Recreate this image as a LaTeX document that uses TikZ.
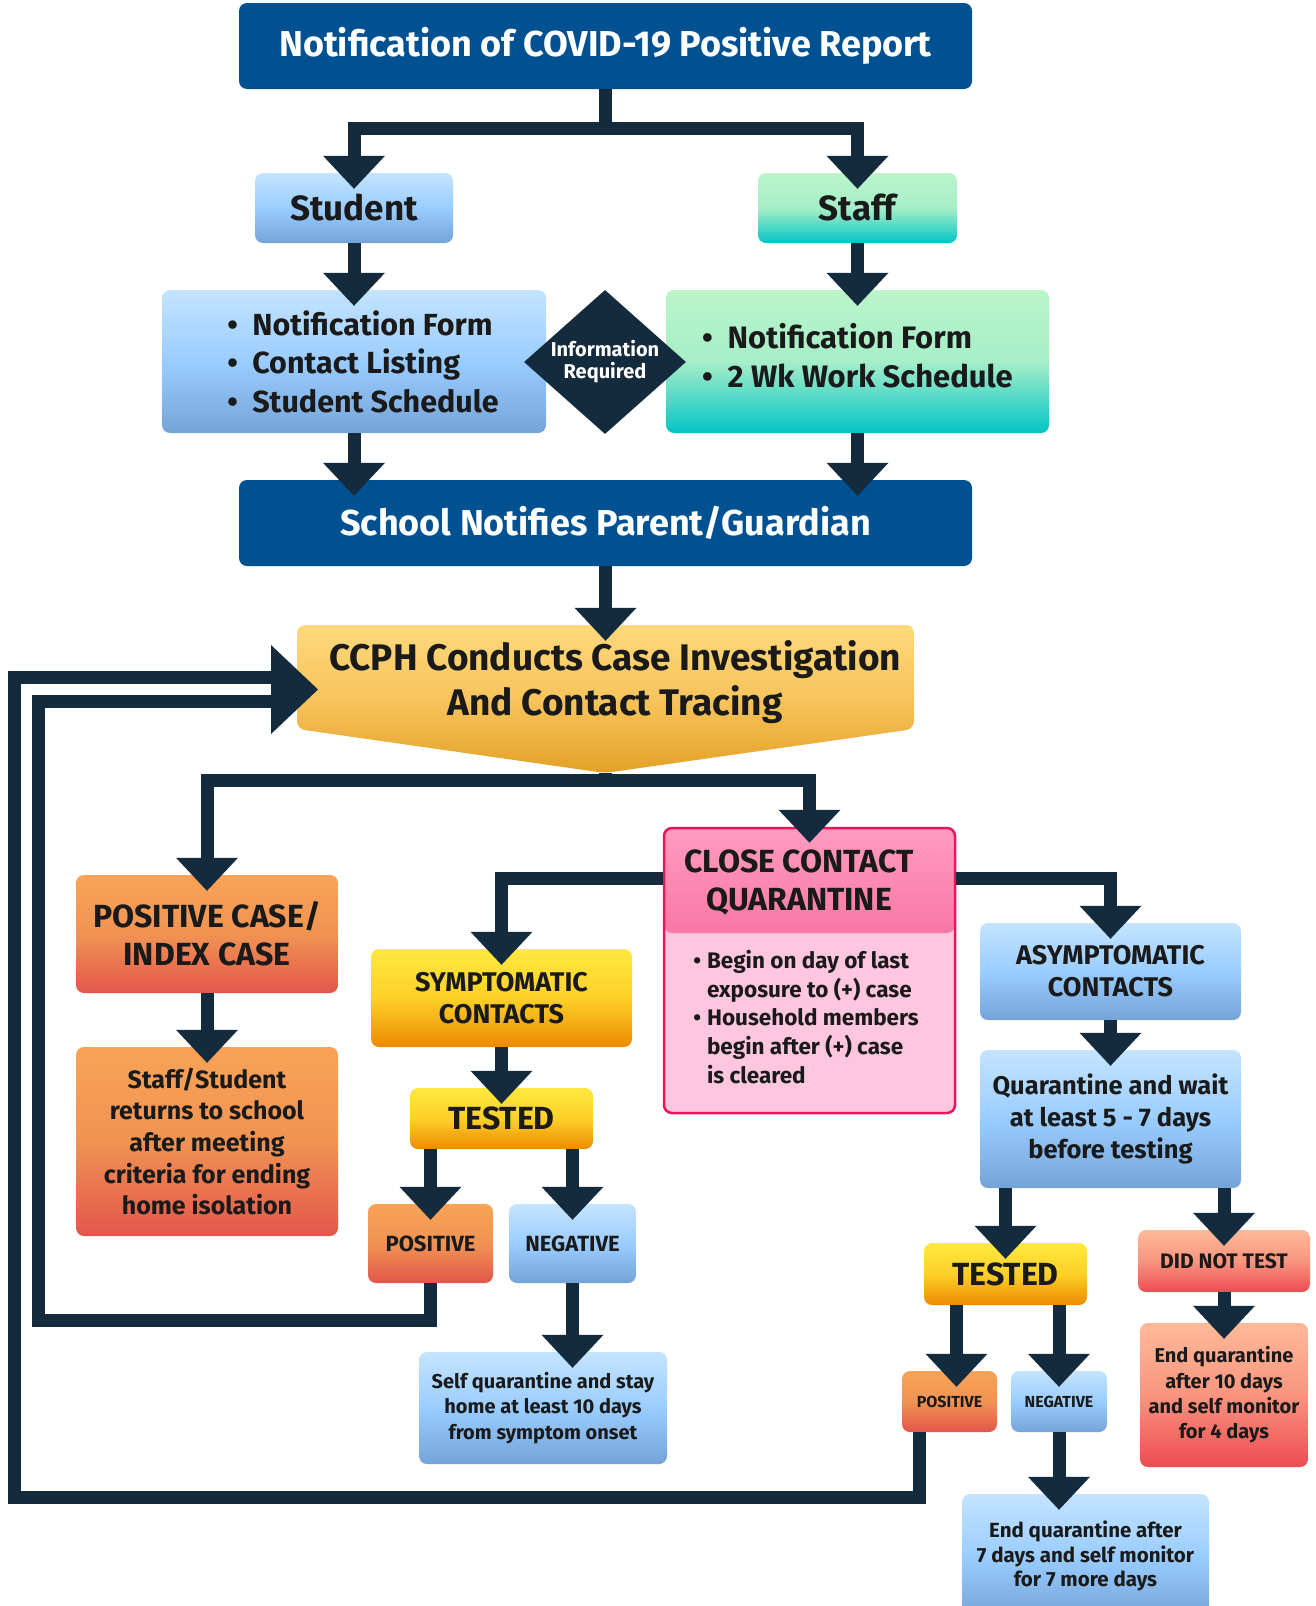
\documentclass[tikz,border=0pt]{standalone}
\usepackage{fontspec}
\setmainfont{Fira Sans}
\usetikzlibrary{arrows.meta,shapes.geometric}
\definecolor{boxnavy}{HTML}{005191}
\definecolor{arrowink}{HTML}{132B3D}
\definecolor{ink}{HTML}{1A1A1A}
\definecolor{bluetop}{HTML}{C4E4FF}
\definecolor{bluemid}{HTML}{9ACDFF}
\definecolor{bluebot}{HTML}{74A3D8}
\definecolor{greentop}{HTML}{BAF5C9}
\definecolor{greenmid}{HTML}{A6EEC8}
\definecolor{greenbot}{HTML}{02C4C6}
\definecolor{orangetop}{HTML}{F8A357}
\definecolor{orangemid}{HTML}{F09353}
\definecolor{orangebot}{HTML}{E3564B}
\definecolor{yellowtop}{HTML}{FFE93F}
\definecolor{yellowmid}{HTML}{FCD028}
\definecolor{yellowbot}{HTML}{EE8A00}
\definecolor{ccphtop}{HTML}{FFD97C}
\definecolor{ccphmid}{HTML}{F7C45C}
\definecolor{ccphbot}{HTML}{E3A127}
\definecolor{salmontop}{HTML}{FFB999}
\definecolor{salmonmid}{HTML}{F8957F}
\definecolor{salmonbot}{HTML}{EE4B52}
\definecolor{pinktop}{HTML}{FF9CC0}
\definecolor{pinkmid}{HTML}{F76A9B}
\definecolor{pinkbot}{HTML}{EA1457}
\definecolor{pinkbody}{HTML}{FFC6DF}
\definecolor{pinkline}{HTML}{E9175A}
\tikzset{box/.style={rounded corners=8pt,inner sep=0pt,align=center,text=ink},
         dims/.style 2 args={minimum width=#1pt,minimum height=#2pt},
         txt/.style 2 args={font=\fontsize{#1}{#2}\selectfont\bfseries},
         navybox/.style={box,fill=boxnavy,text=white},
         bluebox/.style={box,top color=bluetop,bottom color=bluebot,middle color=bluemid},
         greenbox/.style={box,top color=greentop,bottom color=greenbot,middle color=greenmid},
         orangebox/.style={box,top color=orangetop,bottom color=orangebot,middle color=orangemid},
         yellowbox/.style={box,top color=yellowtop,bottom color=yellowbot,middle color=yellowmid},
         salmonbox/.style={box,top color=salmontop,bottom color=salmonbot,middle color=salmonmid},
         flow/.style={draw=arrowink,line width=13pt,
           -{Triangle[width=62pt,length=33pt,line width=0pt]},shorten >=-16pt},
         loopline/.style={draw=arrowink,line width=13pt}
         }
\begin{document}
\begin{tikzpicture}[x=1pt,y=-1pt]
\useasboundingbox (0,0) rectangle (1316,1606);
\fill[white] (0,0) rectangle (1316,1606);

% top part
\node[navybox,dims={733}{86},txt={36}{42}] (title) at (605.5,46) {Notification of COVID-19 Positive Report};
\node[bluebox,dims={198}{70},txt={35}{40}] (student) at (354,208) {Student};
\node[greenbox,dims={199}{70},txt={35}{40}] (staff) at (857.5,208) {Staff};
\node[bluebox,dims={384}{143},txt={30.5}{38.5},align=left] (stulist) at (354,361.5)
  {\hspace*{18pt}\textbullet\ \ Notification Form\\\hspace*{18pt}\textbullet\ \ Contact Listing\\\hspace*{18pt}\textbullet\ \ Student Schedule};
\node[greenbox,dims={383}{143},txt={31}{39},align=left,text depth=12pt] (stafflist) at (857.5,361.5)
  {\textbullet\ \ Notification Form\\\textbullet\ \ 2 Wk Work Schedule};
\node[diamond,aspect=1.125,inner sep=0pt,fill=arrowink,text=white,dims={162}{144},
  txt={20}{22},align=center] (info) at (605,362) {Information\\Required};
\node[navybox,dims={733}{86},txt={36}{42}] (school) at (605.5,523) {School Notifies Parent/Guardian};

% investigation
\shade[top color=ccphtop,bottom color=ccphbot,middle color=ccphmid,rounded corners=8pt]
  (297,625) -- (914,625) -- (914,729) -- (605,773) -- (297,729) -- cycle;
\node[inner sep=0pt,dims={617}{104}] (ccph) at (605.5,677) {};
\coordinate (ccphtip) at (605,773);
\node[txt={37}{45},align=center,text=ink] (ccphtext) at (615,682)
  {CCPH Conducts Case Investigation\\And Contact Tracing};

% positive case
\node[orangebox,dims={262}{118},txt={32}{38}] (poscase) at (207,934) {POSITIVE CASE/\\INDEX CASE};
\node[orangebox,dims={262}{189},txt={25}{31.7}] (returns) at (207,1141.5)
  {Staff/Student\\returns to school\\after meeting\\criteria for ending\\home isolation};

% close contact
\node[box,fill=pinkbody,draw=pinkline,line width=2.5pt,dims={291}{285},
  path picture={\shade[top color=pinktop,bottom color=pinkbot,middle color=pinkmid]
  (path picture bounding box.north west) rectangle ([yshift=-105pt]path picture bounding box.north east);}]
  (close) at (809.5,970.5) {};
\node[txt={32}{38},align=center,text=ink] (closetext) at (799,882) {CLOSE CONTACT\\QUARANTINE};
\node[txt={22.5}{28.7},text=ink,inner sep=0pt] (closelist) at (806,1020)
  {\begin{tabular}{@{}l@{\hspace{6pt}}l@{}}
  \textbullet & Begin on day of last\\ & exposure to (+) case\\
  \textbullet & Household members\\ & begin after (+) case\\ & is cleared
  \end{tabular}};

% symptomatic
\node[yellowbox,dims={261}{98},txt={27}{32}] (sympt) at (501.5,998) {SYMPTOMATIC\\CONTACTS};
\node[yellowbox,dims={183}{61},txt={32}{36}] (testedL) at (501.5,1118.5) {TESTED};
\node[orangebox,dims={125}{79},txt={22}{24}] (posL) at (430.5,1243.5) {POSITIVE};
\node[bluebox,dims={127}{79},txt={22}{24}] (negL) at (572.5,1243.5) {NEGATIVE};
\node[bluebox,dims={248}{112},txt={20}{25.6}] (selfq) at (543,1408)
  {Self quarantine and stay\\home at least 10 days\\from symptom onset};

% asymptomatic
\node[bluebox,dims={261}{97},txt={27}{32}] (asym) at (1110.5,971.5) {ASYMPTOMATIC\\CONTACTS};
\node[bluebox,dims={261}{138},txt={25.5}{31.7}] (quar) at (1110.5,1119)
  {Quarantine and wait\\at least 5 - 7 days\\before testing};
\node[yellowbox,dims={163}{62},txt={32}{36}] (testedR) at (1005.5,1274) {TESTED};
\node[salmonbox,dims={172}{62},txt={21}{24}] (dnt) at (1224,1261) {DID NOT TEST};
\node[salmonbox,dims={168}{144},txt={20}{25.3}] (end10) at (1224,1395)
  {End quarantine\\after 10 days\\and self monitor\\for 4 days};
\node[orangebox,dims={95}{61},txt={16}{18}] (posR) at (949.5,1401.5) {POSITIVE};
\node[bluebox,dims={96}{61},txt={16}{18}] (negR) at (1059,1401.5) {NEGATIVE};
\node[bluebox,dims={247}{124},txt={20.5}{24.8}] (end7) at (1085.5,1556)
  {End quarantine after\\7 days and self monitor\\for 7 more days};

% connectors
\draw[flow] (title.south) -- ++(0,39) -| (student.north);
\draw[flow] (title.south) -- ++(0,39) -| (staff.north);
\draw[flow] (student.south) -- (stulist.north);
\draw[flow] (staff.south) -- (stafflist.north);
\draw[flow] (stulist.south) -- (stulist.south |- school.north);
\draw[flow] (stafflist.south) -- (stafflist.south |- school.north);
\draw[flow] (school.south) -- (ccph.north);
\draw[flow] (ccphtip) -- ++(0,7) -| (poscase.north);
\draw[flow] (ccphtip) -- ++(0,7) -| (close.north);
\draw[flow] (poscase.south) -- (returns.north);
\draw[flow] ([yshift=-52pt]close.north west) -| (sympt.north);
\draw[flow] ([yshift=-52pt]close.north east) -| (asym.north);
\draw[flow] (sympt.south) -- (testedL.north);
\draw[flow] (testedL.south -| posL.north) -- (posL.north);
\draw[flow] (testedL.south -| negL.north) -- (negL.north);
\draw[flow] (negL.south) -- (negL.south |- selfq.north);
\draw[flow] (asym.south) -- (quar.north);
\draw[flow] (quar.south -| testedR.north) -- (testedR.north);
\draw[flow] (quar.south -| dnt.north) -- (dnt.north);
\draw[flow] (dnt.south) -- (end10.north);
\coordinate (posRin) at ([xshift=7pt]posR.north);
\draw[flow] (testedR.south -| posRin) -- (posRin);
\draw[flow] (testedR.south -| negR.north) -- (negR.north);
\draw[flow] (negR.south) -- (negR.south |- end7.north);

% loops back to investigation
\coordinate (inloop) at (38,1320);
\coordinate (outloop) at (14,1497);
\coordinate (mergeA) at (274,701);
\coordinate (mergeB) at (274,677);
\coordinate (mergetip) at (318,689.5);
\coordinate (posRout) at ([xshift=-30pt]posR.south);
\draw[loopline] (posL.south) |- (inloop) |- (mergeA);
\draw[loopline] (posRout) |- (outloop) |- (mergeB);
\fill[arrowink] (mergetip) -- ++(-47,-44.5) -- ++(0,89) -- cycle;
\end{tikzpicture}
\end{document}
